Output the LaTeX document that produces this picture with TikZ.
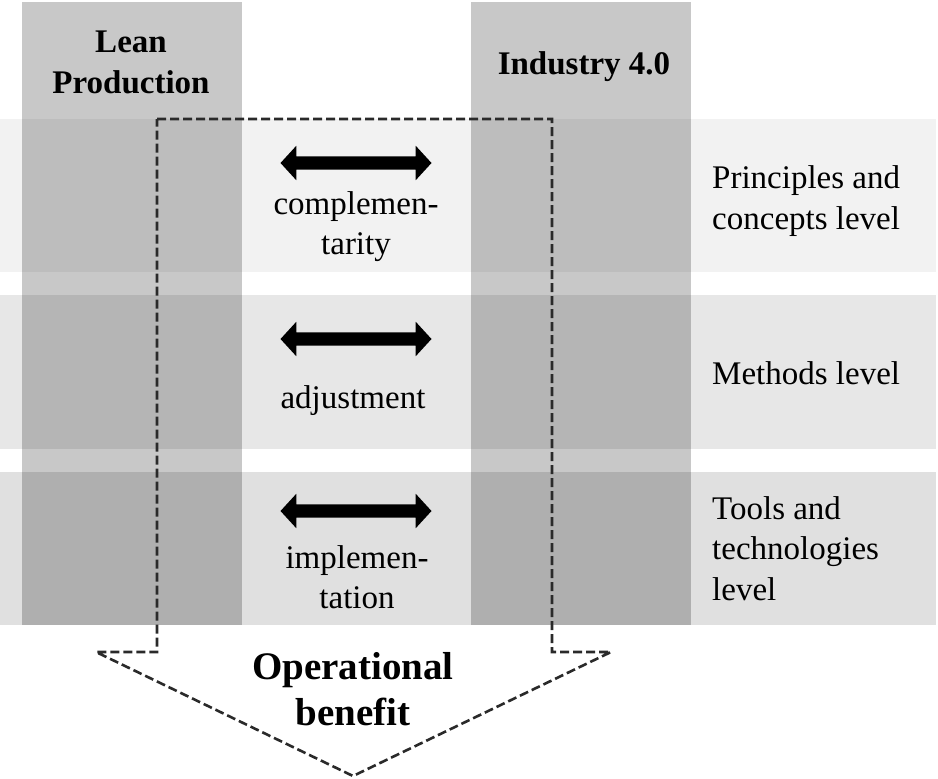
\documentclass[tikz,border=0pt]{standalone}
\usepackage{fontspec}
\setmainfont{Liberation Serif}
\usetikzlibrary{shapes.arrows}
\definecolor{bandA}{HTML}{F2F2F2}
\definecolor{bandB}{HTML}{E7E7E7}
\definecolor{bandC}{HTML}{E0E0E0}
\definecolor{outl}{HTML}{2A2A2A}
\begin{document}
\begin{tikzpicture}[x=1pt,y=-1pt,
  colfill/.style={fill=black,fill opacity=0.216},
  outline/.style={draw=outl,line width=2.6pt,dash pattern=on 9pt off 4pt},
  dblarrow/.style={double arrow,fill=black,draw=none,minimum height=151pt,minimum width=34pt,inner sep=6.5pt,double arrow head extend=10.5pt,double arrow tip angle=95},
  txt/.style={font=\fontsize{33}{39.5}\selectfont,inner sep=0pt,align=center,anchor=base},
  lvl/.style={font=\fontsize{33}{40.5}\selectfont,inner sep=0pt,align=left,anchor=base west},
  hdr/.style={font=\bfseries\fontsize{33}{41}\selectfont,inner sep=0pt,align=center,anchor=base},
  big/.style={font=\bfseries\fontsize{39}{46}\selectfont,inner sep=0pt,align=center,anchor=base}]
\useasboundingbox (0,0) rectangle (938,779);
% bands
\fill[bandA] (0,119) rectangle (936,272);
\fill[bandB] (0,295) rectangle (936,449);
\fill[bandC] (0,472) rectangle (936,625);
% columns
\fill[colfill] (22,2) rectangle (242,625);
\fill[colfill] (471,2) rectangle (691,625);
% dashed arrow outline
\draw[outline] (157,119) -- (552,119) -- (552,652) -- (611,652) -- (353,776) -- (96,652) -- (157,652) -- cycle;
% double arrows
\node[dblarrow] (a1) at (356,163) {};
\node[dblarrow] (a2) at (356,339) {};
\node[dblarrow] (a3) at (356,511) {};
% headers
\node[hdr] (lean) at (131,93) {Lean\\Production};
\node[hdr] (ind) at (584,74) {Industry 4.0};
% relation labels
\node[txt] (comp) at (356,254) {complemen-\\tarity};
\node[txt] (adj) at (353,408) {adjustment};
\node[txt] (impl) at (357,608) {implemen-\\tation};
% level labels
\node[lvl] (l1) at (712,229) {Principles and\\concepts level};
\node[lvl] (l2) at (712,384) {Methods level};
\node[lvl] (l3) at (712,600) {Tools and\\technologies\\level};
% benefit
\node[big] (ben) at (353,725) {Operational\\benefit};
\end{tikzpicture}
\end{document}
